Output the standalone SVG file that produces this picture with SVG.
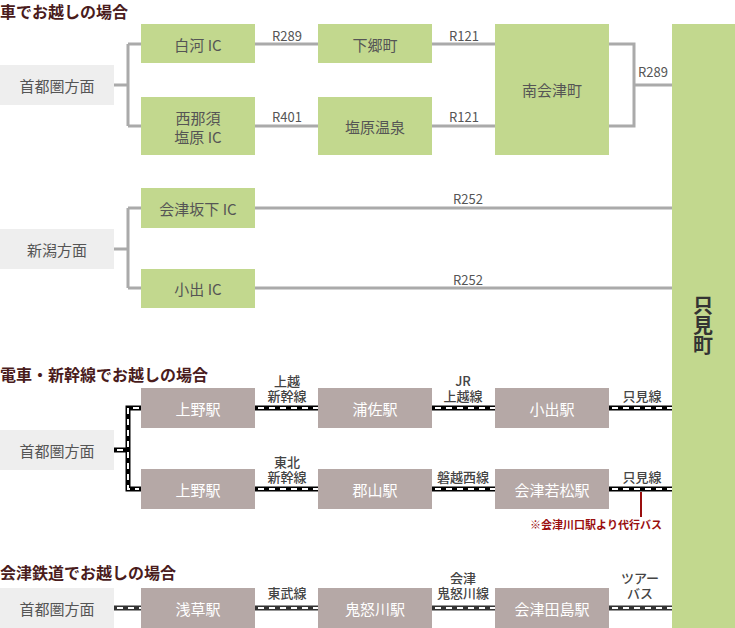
<svg xmlns="http://www.w3.org/2000/svg" width="735" height="628" viewBox="0 0 735 628">
<style>
text{font-family:"Noto Sans CJK JP","Noto Sans",sans-serif;}
.title{font-size:16px;font-weight:bold;fill:#4a1c1c;}
.g{fill:#c2d88e;}
.s{fill:#b5a8a6;}
.o{fill:#eeeeee;}
.t{font-size:15px;fill:#555;text-anchor:middle;dominant-baseline:central;}
.w{font-size:15px;fill:#fff;text-anchor:middle;dominant-baseline:central;}
.l{font-size:13px;fill:#555;text-anchor:middle;}
.lb{font-size:13px;fill:#444;text-anchor:middle;font-weight:500;}
.road{fill:none;stroke:#aaa;stroke-width:3;}
.railb{fill:none;stroke:#000;stroke-width:5;}
.railb2{fill:none;stroke:#333;stroke-width:5;}
.railw{fill:none;stroke:#fff;stroke-width:2;stroke-dasharray:6 5;}
</style>

<text class="title" x="0" y="18">車でお越しの場合</text>
<text class="title" x="0" y="381">電車・新幹線でお越しの場合</text>
<text class="title" x="0" y="579">会津鉄道でお越しの場合</text>

<g id="connectors">
  <path class="road" d="M114,85 H128 M128,44 V126 M128,44 H141 M128,126 H141"/>
  <path class="road" d="M255,44 H318 M255,126 H318 M432,44 H495 M432,126 H495"/>
  <path class="road" d="M609,44 H634 V126 H609 M634,85 H672"/>
  <path class="road" d="M114,249 H128 M128,208 V288 M128,208 H141 M128,288 H141"/>
  <path class="road" d="M255,208 H672 M255,288 H672"/>

  <path class="railb" d="M141,408 H128 V489 H141 M114,450 H128"/>
  <path class="railw" d="M139,408 H128 V489 H139"/>
  <path class="railw" d="M117,450 H128"/>
  <path class="railb" d="M255,408 H318 M432,408 H495 M609,408 H672 M255,489 H318 M432,489 H495 M609,489 H672"/>
  <path class="railw" d="M258,408 H318 M435,408 H495 M612,408 H672 M258,489 H318 M435,489 H495 M612,489 H672"/>
  <path d="M641,492 V517" stroke="#9a0e0e" stroke-width="2" fill="none"/>

  <path class="railb2" d="M114,608 H141 M255,608 H318 M432,608 H495 M609,608 H672"/>
  <path class="railw" d="M117,608 H141 M258,608 H318 M435,608 H495 M612,608 H672"/>

  <text class="l" x="287" y="41">R289</text>
  <text class="l" x="464" y="41">R121</text>
  <text class="l" x="287" y="122">R401</text>
  <text class="l" x="464" y="122">R121</text>
  <text class="l" x="653" y="77">R289</text>
  <text class="l" x="468" y="204">R252</text>
  <text class="l" x="468" y="285">R252</text>

  <text class="lb" x="287" y="386">上越<tspan x="287" dy="15">新幹線</tspan></text>
  <text class="lb" x="463" y="386">JR<tspan x="463" dy="15">上越線</tspan></text>
  <text class="lb" x="642" y="401">只見線</text>
  <text class="lb" x="287" y="467">東北<tspan x="287" dy="15">新幹線</tspan></text>
  <text class="lb" x="463" y="482">磐越西線</text>
  <text class="lb" x="642" y="482">只見線</text>
  <text x="596" y="529" style="font-size:11px;font-weight:bold;fill:#9a0e0e;text-anchor:middle;">※会津川口駅より代行バス</text>

  <text class="lb" x="287" y="598">東武線</text>
  <text class="lb" x="463" y="583">会津<tspan x="463" dy="15">鬼怒川線</tspan></text>
  <text class="lb" x="640" y="583">ツアー<tspan x="640" dy="15">バス</tspan></text>
</g>

<g id="tadami">
  <rect class="g" x="672" y="24" width="63" height="604"/>
  <text x="703" y="295" style="font-size:20px;font-weight:bold;fill:#333;writing-mode:vertical-rl;">只見町</text>
</g>

<g id="car-origin"><rect class="o" x="0" y="65" width="114" height="40"/><text class="t" x="57" y="85">首都圏方面</text></g>
<g id="shirakawa"><rect class="g" x="141" y="24" width="114" height="39"/><text class="t" x="198" y="44">白河 IC</text></g>
<g id="nishinasu"><rect class="g" x="141" y="97" width="114" height="58"/><text class="t" x="198" y="117">西那須</text><text class="t" x="198" y="136">塩原 IC</text></g>
<g id="shimogo"><rect class="g" x="318" y="24" width="114" height="39"/><text class="t" x="375" y="44">下郷町</text></g>
<g id="shiobara"><rect class="g" x="318" y="97" width="114" height="58"/><text class="t" x="375" y="126">塩原温泉</text></g>
<g id="minamiaizu"><rect class="g" x="495" y="24" width="114" height="131"/><text class="t" x="552" y="89">南会津町</text></g>

<g id="niigata"><rect class="o" x="0" y="229" width="114" height="40"/><text class="t" x="57" y="249">新潟方面</text></g>
<g id="aizubange"><rect class="g" x="141" y="188" width="114" height="40"/><text class="t" x="198" y="208">会津坂下 IC</text></g>
<g id="koide-ic"><rect class="g" x="141" y="269" width="114" height="39"/><text class="t" x="198" y="288">小出 IC</text></g>

<g id="train-origin"><rect class="o" x="0" y="430" width="114" height="40"/><text class="t" x="57" y="450">首都圏方面</text></g>
<g id="ueno1"><rect class="s" x="141" y="388" width="114" height="40"/><text class="w" x="198" y="408">上野駅</text></g>
<g id="urasa"><rect class="s" x="318" y="388" width="114" height="40"/><text class="w" x="375" y="408">浦佐駅</text></g>
<g id="koide"><rect class="s" x="495" y="388" width="114" height="40"/><text class="w" x="552" y="408">小出駅</text></g>
<g id="ueno2"><rect class="s" x="141" y="469" width="114" height="40"/><text class="w" x="198" y="489">上野駅</text></g>
<g id="koriyama"><rect class="s" x="318" y="469" width="114" height="40"/><text class="w" x="375" y="489">郡山駅</text></g>
<g id="aizuwakamatsu"><rect class="s" x="495" y="469" width="114" height="40"/><text class="w" x="552" y="489">会津若松駅</text></g>

<g id="rail-origin"><rect class="o" x="0" y="588" width="114" height="40"/><text class="t" x="57" y="608">首都圏方面</text></g>
<g id="asakusa"><rect class="s" x="141" y="588" width="114" height="40"/><text class="w" x="198" y="608">浅草駅</text></g>
<g id="kinugawa"><rect class="s" x="318" y="588" width="114" height="40"/><text class="w" x="375" y="608">鬼怒川駅</text></g>
<g id="aizutajima"><rect class="s" x="495" y="588" width="114" height="40"/><text class="w" x="552" y="608">会津田島駅</text></g>
</svg>
